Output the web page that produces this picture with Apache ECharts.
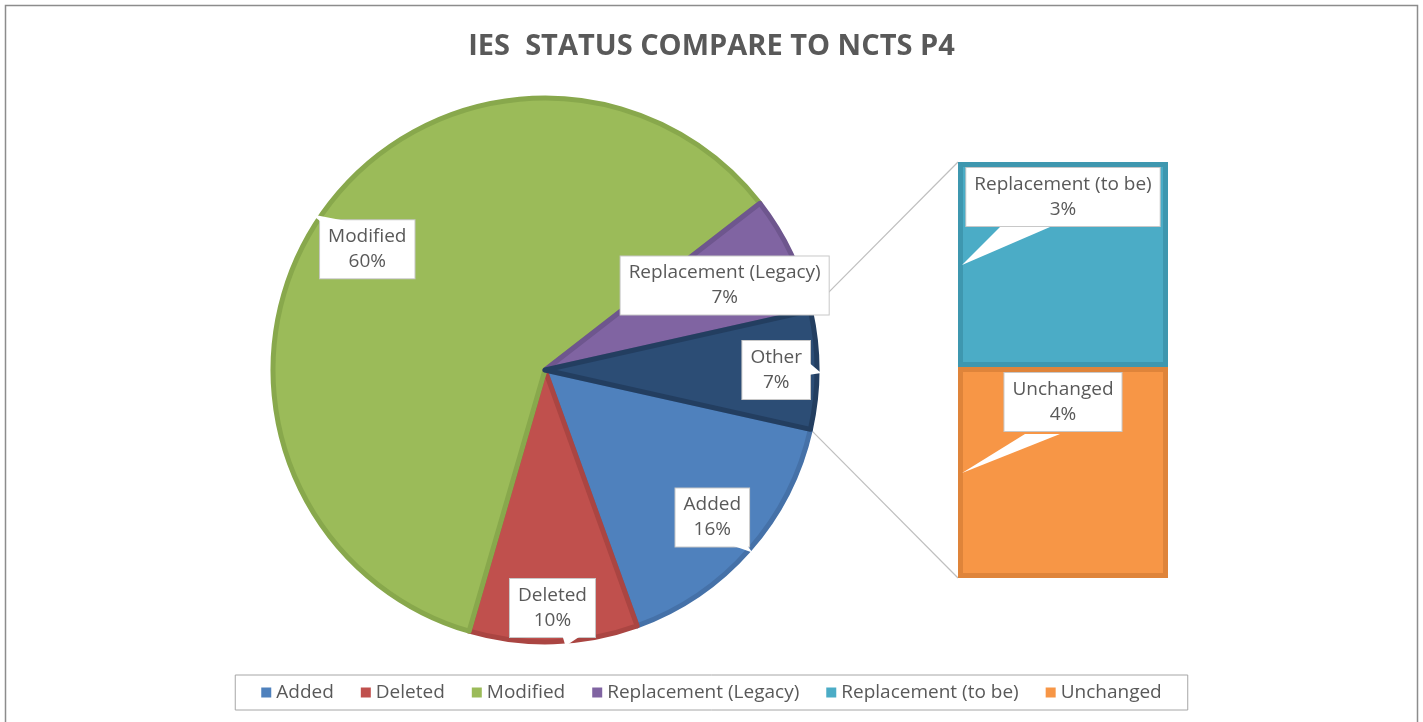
<!DOCTYPE html>
<html>
<head>
<meta charset="utf-8">
<script src="https://cdn.jsdelivr.net/npm/echarts@6/dist/echarts.min.js"></script>
<style>
  html, body { margin: 0; padding: 0; background: #fff; }
  #chart { width: 1423px; height: 722px; }
</style>
</head>
<body>
<div id="chart"></div>
<script>
// values in percent
const pieNames = ['Added', 'Deleted', 'Modified', 'Replacement (Legacy)', 'Other']
const pieValues = [16, 10, 60, 7]
const barNames = ['Replacement (to be)', 'Unchanged']
const barValues = [3.45, 3.55]
const legendNames = ['Added', 'Deleted', 'Modified', 'Replacement (Legacy)', 'Replacement (to be)', 'Unchanged']

const other = barValues.reduce((a, b) => a + b, 0)
const values = pieValues.concat([other])
const total = values.reduce((a, b) => a + b, 0)

const colors = ['#4F81BD', '#C0504D', '#9BBB59', '#8064A2', '#2C4D75']
const borders = ['#4571A8', '#AA4542', '#88A84C', '#6E568E', '#233E60']
const barColors = ['#4BACC6', '#F79646']
const barBorders = ['#3E97AF', '#DF843A']
const font = 'Open Sans'
const textColor = '#595959'

// layout
const cx = 545, cy = 370, R = 272
const gl = 958, gt = 162, gw = 210, gh = 416
const labelR = [0.82, 0.875, 0.79, 0.73, 0.85]
// tail offsets from label centre: base1, base2, tip
const pieTails = [
  [[20, 28], [35, 28], [40, 35]],
  [[10, 28], [28, 28], [13, 38]],
  [[-47, -28], [-20, -28], [-56, -35]],
  null,
  [[32, -8], [32, 5], [45, 3]]
]
const barTails = [
  { base: [42, 92], baseY: 65, tipY: 103 },
  { base: [67, 102], baseY: 67, tipY: 106 }
]

const otherDeg = other / total * 360
const startDeg = otherDeg / 2

function midAngle(i) {
  let before = 0
  for (let k = 0; k < i; k++) before += values[k]
  return (startDeg + (before + values[i] / 2) / total * 360) * Math.PI / 180
}
function pieLabelPos(i) {
  const a = midAngle(i)
  return [cx + labelR[i] * R * Math.cos(a), cy + labelR[i] * R * Math.sin(a)]
}

const labelBox = {
  color: textColor,
  fontFamily: font,
  fontSize: 19,
  lineHeight: 25,
  backgroundColor: '#fff',
  borderColor: '#C8C8C8',
  borderWidth: 1,
  padding: [4, 8]
}

const chart = echarts.init(document.getElementById('chart'))

chart.setOption({
  animation: false,
  title: {
    text: 'IES  STATUS COMPARE TO NCTS P4',
    left: 'center',
    top: 27,
    textStyle: { fontFamily: font, fontSize: 29, fontWeight: 'bold', color: textColor }
  },
  legend: {
    data: legendNames,
    bottom: 12,
    left: 'center',
    icon: 'rect',
    itemWidth: 10,
    itemHeight: 10,
    itemGap: 27,
    padding: [8, 26],
    borderColor: '#A6A6A6',
    borderWidth: 1,
    itemStyle: { borderWidth: 0 },
    textStyle: { fontFamily: font, fontSize: 19, color: textColor }
  },
  grid: { left: gl, top: gt, width: gw, height: gh },
  xAxis: { type: 'category', data: ['Other'], show: false },
  yAxis: { type: 'value', min: 0, max: other, inverse: true, show: false },
  series: [
    {
      type: 'pie',
      center: [cx, cy],
      radius: [0, R],
      startAngle: -startDeg,
      clockwise: true,
      avoidLabelOverlap: false,
      data: values.map((v, i) => ({
        name: pieNames[i],
        value: v,
        itemStyle: { color: colors[i], borderColor: borders[i], borderWidth: 5 }
      })),
      label: Object.assign({
        show: true,
        position: 'inside',
        formatter: p => p.name + '\n' + Math.round(p.value / total * 100) + '%'
      }, labelBox),
      labelLine: { show: false },
      labelLayout: p => {
        const pos = pieLabelPos(p.dataIndex)
        return { x: pos[0], y: pos[1] }
      },
      emphasis: { disabled: true }
    }
  ].concat(barNames.map((n, i) => ({
    type: 'bar',
    name: n,
    stack: 'other',
    barWidth: '100%',
    data: [barValues[i]],
    itemStyle: { color: barColors[i], borderColor: barBorders[i], borderWidth: 5 },
    label: Object.assign({
      show: true,
      position: 'insideTop',
      distance: 6,
      formatter: p => n + '\n' + Math.round(p.value / total * 100) + '%'
    }, labelBox),
    emphasis: { disabled: true }
  })))
})

// connector lines from the "Other" slice to the bar, and callout tails
const graphics = []
const yTop = chart.convertToPixel({ yAxisIndex: 0 }, 0)
const yBottom = chart.convertToPixel({ yAxisIndex: 0 }, other)
const a = startDeg * Math.PI / 180
const px = cx + R * Math.cos(a)
const pyUp = cy - R * Math.sin(a)
const pyDown = cy + R * Math.sin(a)
graphics.push({
  type: 'polyline', z: 1, silent: true,
  shape: { points: [[px, pyUp], [gl, yTop]] },
  style: { stroke: '#BFBFBF', lineWidth: 1.2, fill: null }
})
graphics.push({
  type: 'polyline', z: 1, silent: true,
  shape: { points: [[px, pyDown], [gl, yBottom]] },
  style: { stroke: '#BFBFBF', lineWidth: 1.2, fill: null }
})
pieTails.forEach((t, i) => {
  if (!t) return
  const c = pieLabelPos(i)
  graphics.push({
    type: 'polygon', z: 100, silent: true,
    shape: { points: t.map(d => [c[0] + d[0], c[1] + d[1]]) },
    style: { fill: '#fff', stroke: null }
  })
})
let acc = 0
barValues.forEach((v, i) => {
  const segTop = chart.convertToPixel({ yAxisIndex: 0 }, acc)
  acc += v
  const t = barTails[i]
  graphics.push({
    type: 'polygon', z: 100, silent: true,
    shape: { points: [[gl + t.base[0], segTop + t.baseY], [gl + t.base[1], segTop + t.baseY], [gl + 4, segTop + t.tipY]] },
    style: { fill: '#fff', stroke: null }
  })
})
// outer chart frame
graphics.push({
  type: 'rect', z: 0, silent: true,
  shape: { x: 5.5, y: 5.5, width: 1412, height: 740 },
  style: { fill: null, stroke: '#8C8C8C', lineWidth: 1.5 }
})
chart.setOption({ graphic: graphics })
</script>
</body>
</html>
